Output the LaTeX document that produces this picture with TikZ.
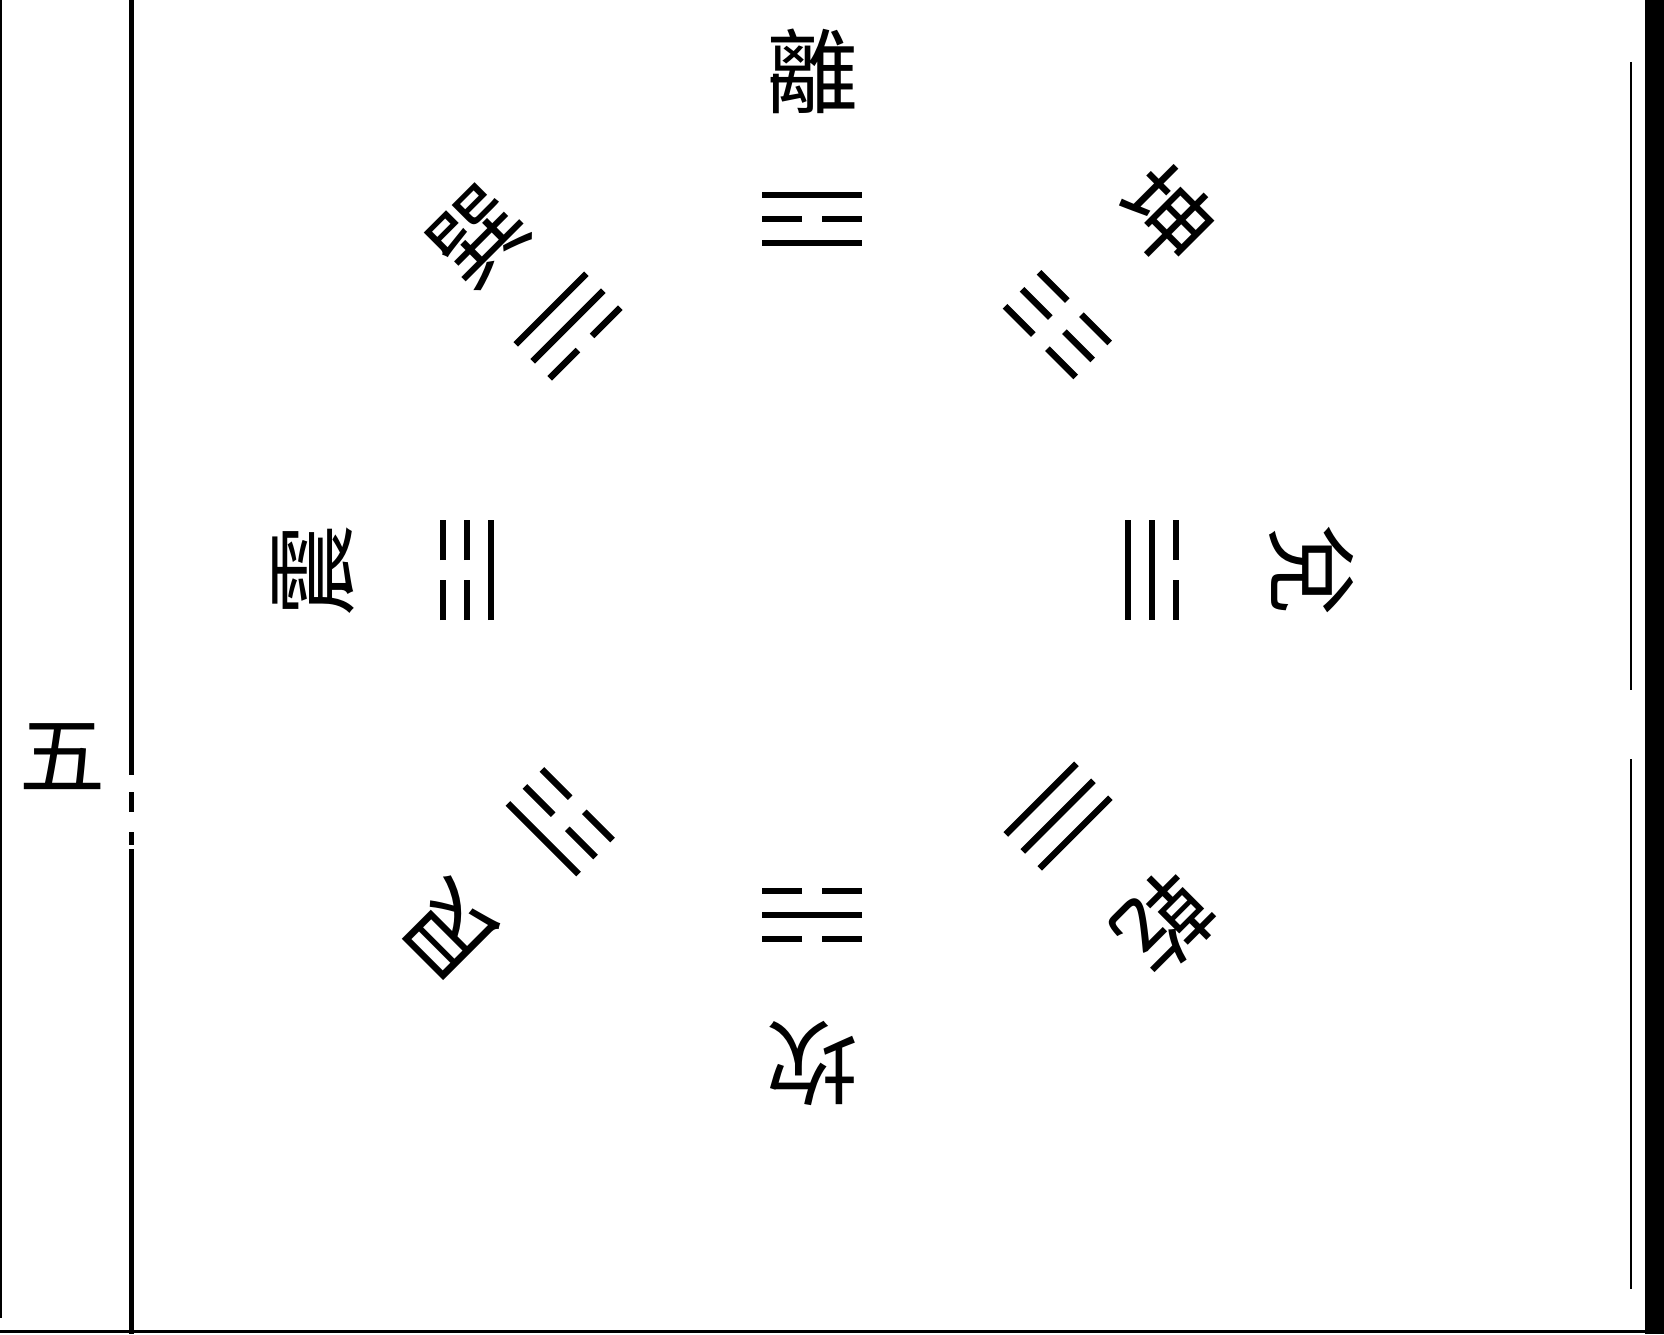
\documentclass[tikz,border=0pt]{standalone}
\usepackage{fontspec}
\newfontfamily\cjk{Noto Sans CJK TC}
\tikzset{
  yao/.style={line width=6.5pt},
  gua/.style={font=\cjk\fontsize{92}{92}\selectfont, inner sep=0pt},
  rule/.style={line width=#1}
}

\begin{document}
\begin{tikzpicture}[x=1pt, y=1pt]
  \useasboundingbox (-812,-764) rectangle (852,570);
  \foreach \n/\c/\a/\r/\R/\ya/\yb/\yc in {li/離/90/351/499/1/0/1, xun/巽/135/345/472/0/1/1,
      zhen/震/180/345/498/1/0/0, gen/艮/225/356/510/0/0/1, kan/坎/270/345/493/0/1/0,
      qian/乾/315/348/499/1/1/1, dui/兌/0/340/500/1/1/0, kun/坤/45/347/501/0/0/0} {
    \node[gua, rotate=\a-90] (\n) at (\a:\R) {\c};
    \begin{scope}[shift={(\a:\r)}, rotate=\a-90]
      \foreach \y/\b in {-24/\ya, 0/\yb, 24/\yc} {
        \ifnum\b=1 \draw[yao] (-50,\y) -- (50,\y);
        \else \draw[yao] (-50,\y) -- (-10,\y) (10,\y) -- (50,\y); \fi
      }
    \end{scope}
  }
  \node[gua, font=\cjk\fontsize{86}{86}\selectfont] (wu) at (-749,-187) {五};
  \draw[rule=2pt] (-811,570) -- (-811,-748);
  \draw[rule=5pt] (-680,570) -- (-680,-205) (-680,-222) -- (-680,-242)
    (-680,-262) -- (-680,-275) (-680,-279) -- (-680,-764);
  \draw[rule=3pt] (-812,-761) -- (833,-761);
  \draw[rule=2.5pt] (819,508) -- (819,-120) (819,-189) -- (819,-719);
  \fill (833,-764) rectangle (852,570);
\end{tikzpicture}
\end{document}
